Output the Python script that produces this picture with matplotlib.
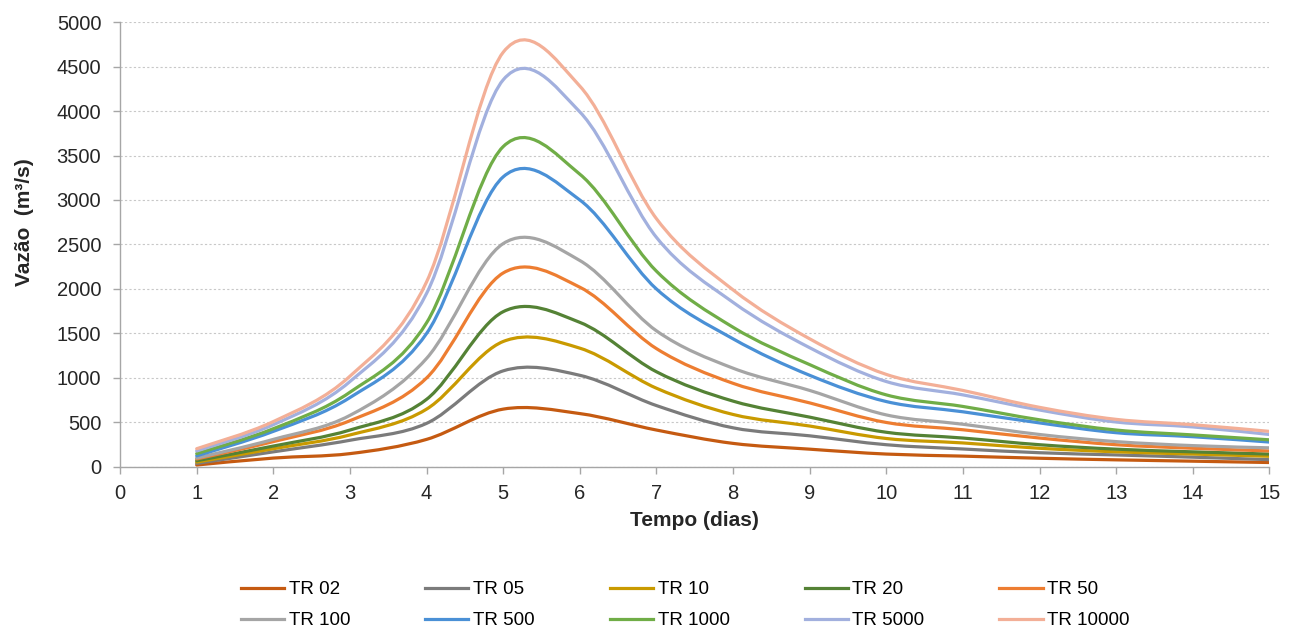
import matplotlib
matplotlib.use('Agg')
import matplotlib.pyplot as plt
from matplotlib.path import Path
from matplotlib.patches import PathPatch
from matplotlib.lines import Line2D

plt.rcParams['font.family'] = ['Liberation Sans', 'DejaVu Sans']

# dias
days = [1, 2, 3, 4, 5, 6, 7, 8, 9, 10, 11, 12, 13, 14, 15]

labels = ['TR 02', 'TR 05', 'TR 10', 'TR 20', 'TR 50',
          'TR 100', 'TR 500', 'TR 1000', 'TR 5000', 'TR 10000']

# vazoes (m3/s)
tr02 = [22, 100, 150, 310, 650, 600, 415, 265, 200, 145, 122, 98, 80, 65, 50]
tr05 = [40, 170, 300, 490, 1080, 1030, 690, 440, 350, 250, 202, 160, 135, 110, 82]
tr10 = [55, 205, 360, 650, 1410, 1335, 885, 590, 460, 320, 270, 210, 170, 145, 120]
tr20 = [70, 235, 415, 760, 1745, 1625, 1070, 740, 560, 390, 325, 250, 200, 170, 145]
tr50 = [90, 285, 520, 1000, 2180, 2020, 1330, 940, 720, 500, 418, 325, 250, 210, 180]
tr100 = [100, 310, 580, 1220, 2510, 2320, 1530, 1110, 860, 585, 480, 365, 285, 240, 215]
tr500 = [125, 400, 780, 1500, 3260, 3000, 2000, 1440, 1030, 735, 620, 495, 385, 340, 280]
tr1000 = [150, 430, 840, 1620, 3600, 3290, 2200, 1570, 1150, 810, 680, 530, 415, 360, 305]
tr5000 = [180, 475, 960, 1950, 4350, 3990, 2580, 1850, 1340, 960, 810, 640, 505, 450, 365]
tr10000 = [205, 510, 1020, 2080, 4660, 4280, 2790, 1990, 1440, 1040, 860, 670, 535, 475, 400]

series = [tr02, tr05, tr10, tr20, tr50, tr100, tr500, tr1000, tr5000, tr10000]
colors = ['#C55A11', '#7B7B7B', '#C99A00', '#548235', '#ED7D31',
          '#A5A5A5', '#4A90D6', '#70AD47', '#A2B0DE', '#F3AF97']


def smooth_path(xs, ys):
    """Excel-style smoothed line: cubic Bezier segments (Catmull-Rom tangents)."""
    pts = list(zip(xs, ys))
    n = len(pts)
    verts = [pts[0]]
    codes = [Path.MOVETO]
    for i in range(n - 1):
        p0 = pts[i - 1] if i > 0 else pts[i]
        p1 = pts[i]
        p2 = pts[i + 1]
        p3 = pts[i + 2] if i + 2 < n else pts[i + 1]
        c1 = (p1[0] + (p2[0] - p0[0]) / 6, p1[1] + (p2[1] - p0[1]) / 6)
        c2 = (p2[0] - (p3[0] - p1[0]) / 6, p2[1] - (p3[1] - p1[1]) / 6)
        verts += [c1, c2, p2]
        codes += [Path.CURVE4] * 3
    return Path(verts, codes)


fig = plt.figure(figsize=(12.98, 6.29), dpi=100)
ax = fig.add_axes([0.0925, 0.2576, 0.8855, 0.7074])

handles = []
for ys, c, lab in zip(series, colors, labels):
    ax.add_patch(PathPatch(smooth_path(days, ys), facecolor='none',
                           edgecolor=c, lw=2.3, capstyle='round', zorder=3))
    handles.append(Line2D([], [], color=c, lw=2.3, label=lab))

ax.set_xlim(0, 15)
ax.set_ylim(0, 5000)
ax.set_xticks(range(0, 16))
ax.set_yticks(range(0, 5001, 500))
ax.yaxis.grid(True, color='#C8C8C8', linestyle=(0, (2, 2)), linewidth=0.8)
ax.set_axisbelow(True)

for s in ['top', 'right']:
    ax.spines[s].set_visible(False)
for s in ['left', 'bottom']:
    ax.spines[s].set_color('#A6A6A6')
    ax.spines[s].set_linewidth(1.0)
ax.tick_params(axis='both', colors='#A6A6A6', labelcolor='#262626',
               labelsize=14.5, length=5, width=1.0, direction='out')
ax.tick_params(axis='y', pad=8.5)
ax.tick_params(axis='x', pad=7)

ax.set_xlabel('Tempo (dias)', fontsize=15, fontweight='bold', color='#262626',
              labelpad=6)
ax.set_ylabel('Vazão  (m³/s)', fontsize=15, fontweight='bold', color='#262626')
ax.yaxis.set_label_coords(-0.075, 0.55)

# legend row-wise: 5 columns x 2 rows
order = [0, 5, 1, 6, 2, 7, 3, 8, 4, 9]
fig.legend([handles[i] for i in order], [labels[i] for i in order],
           loc='center', bbox_to_anchor=(0.528, 0.038), ncol=5, frameon=False,
           fontsize=13.5, handlelength=2.3, handletextpad=0.25,
           columnspacing=4.0, labelspacing=0.75)

fig.savefig('out.png', dpi=100)
